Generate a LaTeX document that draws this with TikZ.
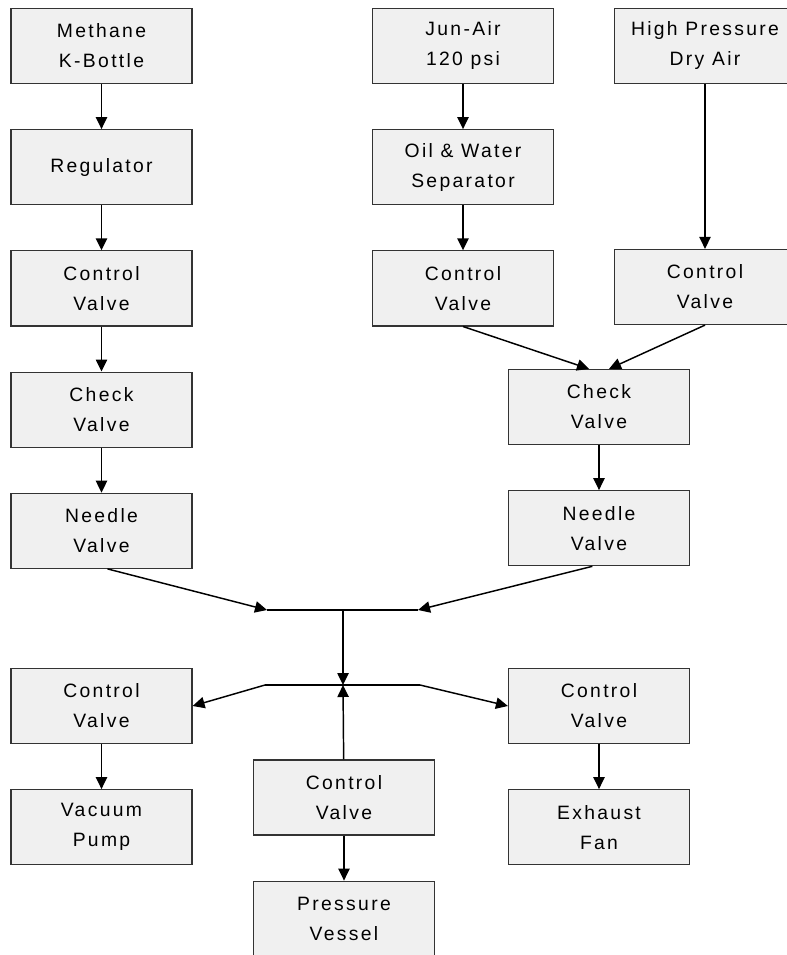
\documentclass[tikz,border=0pt]{standalone}
\usepackage{fontspec}
\setmainfont{Liberation Sans}[LetterSpace=12]
\usetikzlibrary{arrows.meta, positioning}

\begin{document}
\begin{tikzpicture}[
x=0.75pt, y=-0.75pt,
node distance=33.75pt,
>={Triangle[length=9pt, width=8.5pt]},
every node/.style={font=\fontsize{14.5}{22.5}\selectfont},
unit/.style={
rectangle,
draw=black!80,
fill=black!6,
line width=0.9pt,
minimum width=135.75pt,
minimum height=56.25pt,
inner sep=0pt,
align=center
},
line/.style={draw, line width=1.1pt, ->},
pipe/.style={draw, line width=1.1pt}
]
\useasboundingbox (0,0) rectangle (787,955);

% Methane supply
\node[unit] (methane) at (101.5,46) {Methane\\K-Bottle};
\node[unit, below=of methane] (reg) {Regulator};
\node[unit, below=of reg] (cvm) {Control\\Valve};
\node[unit, below=of cvm] (chkm) {Check\\Valve};
\node[unit, below=of chkm] (ndlm) {Needle\\Valve};

% Air supply
\node[unit] (junair) at (463,46) {Jun-Air\\120 psi};
\node[unit, below=of junair] (sep) {Oil \& Water\\Separator};
\node[unit, below=of sep] (cva) {Control\\Valve};

\node[unit] (dryair) at (705,46) {High Pressure\\Dry Air};
\node[unit] (cvd) at (705,287) {Control\\Valve};

\node[unit] (chka) at (599,407) {Check\\Valve};
\node[unit, below=of chka] (ndla) {Needle\\Valve};

% Manifold
\coordinate (mixl) at (267,610);
\coordinate (mix) at (343,610);
\coordinate (mixr) at (418,610);
\coordinate (spltl) at (265,685);
\coordinate (splt) at (343,685);
\coordinate (spltr) at (420,685);

% Outlets
\node[unit] (cvv) at (101.5,706) {Control\\Valve};
\node[unit, below=of cvv] (vac) {Vacuum\\Pump};

\node[unit] (cvp) at (344,797.5) {Control\\Valve};
\node[unit, below=of cvp] (vessel) {Pressure\\Vessel};

\node[unit] (cve) at (599,706) {Control\\Valve};
\node[unit, below=of cve] (fan) {Exhaust\\Fan};

% Connections
\draw[line] (methane) -- (reg);
\draw[line] (reg) -- (cvm);
\draw[line] (cvm) -- (chkm);
\draw[line] (chkm) -- (ndlm);

\draw[line] (junair) -- (sep);
\draw[line] (sep) -- (cva);
\draw[line] (dryair) -- (cvd);
\draw[line] (cva.south) -- ([xshift=-7.5pt]chka.north);
\draw[line] (cvd.south) -- ([xshift=7.5pt]chka.north);
\draw[line] (chka) -- (ndla);

\draw[line] ([xshift=4.5pt]ndlm.south) -- (mixl);
\draw[line] ([xshift=-5pt]ndla.south) -- (mixr);
\draw[pipe] (mixl) -- (mixr);
\draw[line] (mix) -- (splt);
\draw[line] (cvp) -- (splt);
\draw[pipe] (spltl) -- (spltr);

\draw[line] (spltl) -- (cvv.east);
\draw[line] (spltr) -- (cve.west);
\draw[line] (cvv) -- (vac);
\draw[line] (cvp) -- (vessel);
\draw[line] (cve) -- (fan);

\end{tikzpicture}
\end{document}
